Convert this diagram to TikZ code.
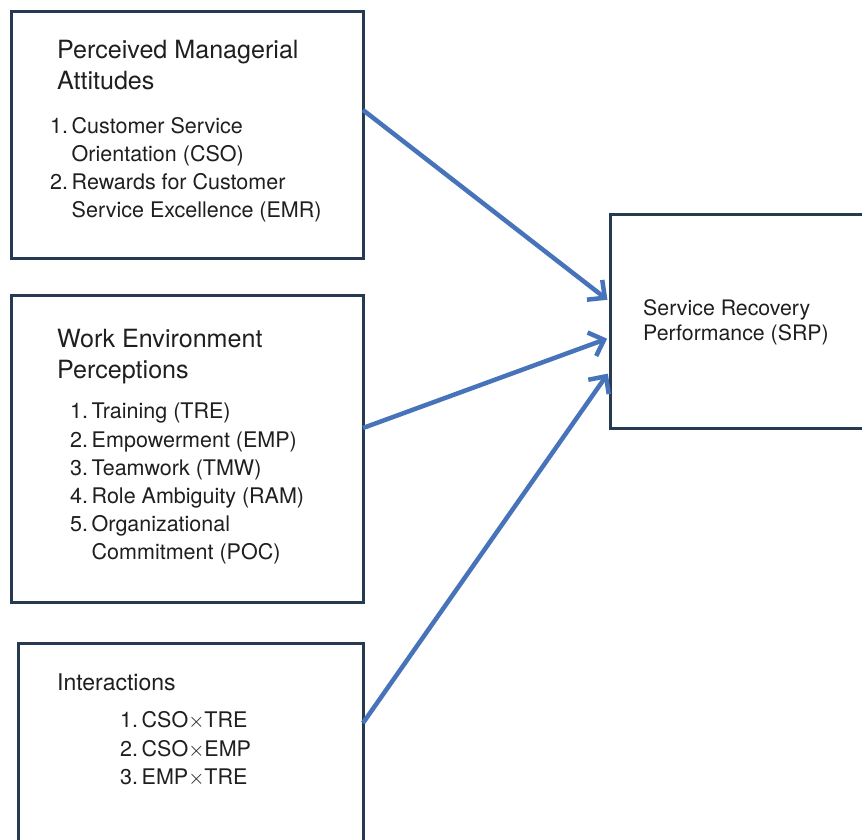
\documentclass[tikz,border=0pt]{standalone}
\usepackage{fontspec}
\setmainfont{TeX Gyre Heros}
\usetikzlibrary{arrows.meta}
\definecolor{boxline}{RGB}{38,58,82}
\definecolor{arrowblue}{RGB}{70,115,185}
\tikzset{
  framebox/.style={draw=boxline, line width=3pt, inner sep=0pt, outer sep=0pt, anchor=north west, fill=white},
  titletext/.style={anchor=north west, inner sep=0pt, align=left, font=\fontsize{25.1}{31}\selectfont, text=black!88},
  listtext/.style={anchor=north west, inner sep=0pt, align=left, font=\fontsize{21.5}{27.8}\selectfont, text=black!88},
  flow/.style={draw=arrowblue, line width=4.5pt, -{Straight Barb[length=13pt,width=25pt,line width=4.5pt]}, shorten >=2pt}
}
\begin{document}
\begin{tikzpicture}[x=1pt,y=-1pt]
\useasboundingbox[fill=white] (0,0) rectangle (862,840);
% boxes
\node[framebox, minimum width=352pt, minimum height=247pt] (b1) at (11.5,11.5) {};
\node[framebox, minimum width=352pt, minimum height=307pt] (b2) at (11.5,295.5) {};
\node[framebox, minimum width=345pt, minimum height=230pt] (b3) at (18.5,643.5) {};
\node[framebox, minimum width=270pt, minimum height=214pt] (srp) at (610.5,214.5) {};
% box 1 texts
\node[titletext] (t1) at (57,40) {Perceived Managerial\\Attitudes};
\node[listtext] (l1) at (50,114) {\begin{tabular}{@{}l@{\,}l@{}}1.&Customer Service\\&Orientation (CSO)\\2.&Rewards for Customer\\&Service Excellence (EMR)\end{tabular}};
% box 2 texts
\node[titletext] (t2) at (57,329) {Work Environment\\Perceptions};
\node[listtext, font=\fontsize{21.5}{28.2}\selectfont] (l2) at (70,399) {\begin{tabular}{@{}l@{\,}l@{}}1.&Training (TRE)\\2.&Empowerment (EMP)\\3.&Teamwork (TMW)\\4.&Role Ambiguity (RAM)\\5.&Organizational\\&Commitment (POC)\end{tabular}};
% box 3 texts
\node[listtext, font=\fontsize{23}{27}\selectfont] (t3) at (57,674) {Interactions};
\node[listtext, font=\fontsize{21.5}{28.2}\selectfont] (l3) at (120,708) {\begin{tabular}{@{}l@{\,}l@{}}1.&CSO$\times$TRE\\2.&CSO$\times$EMP\\3.&EMP$\times$TRE\end{tabular}};
% SRP text
\node[listtext, font=\fontsize{21.3}{25.5}\selectfont] (t4) at (643,299) {Service Recovery\\Performance (SRP)};
% connectors
\coordinate (s1) at (363,110);
\coordinate (s2) at (363,428);
\coordinate (s3) at (363,723);
\coordinate (e1) at (609,301);
\coordinate (e2) at (609,338);
\coordinate (e3) at (609,372);
\draw[flow] (s1) -- (e1);
\draw[flow] (s2) -- (e2);
\draw[flow] (s3) -- (e3);
\end{tikzpicture}
\end{document}
